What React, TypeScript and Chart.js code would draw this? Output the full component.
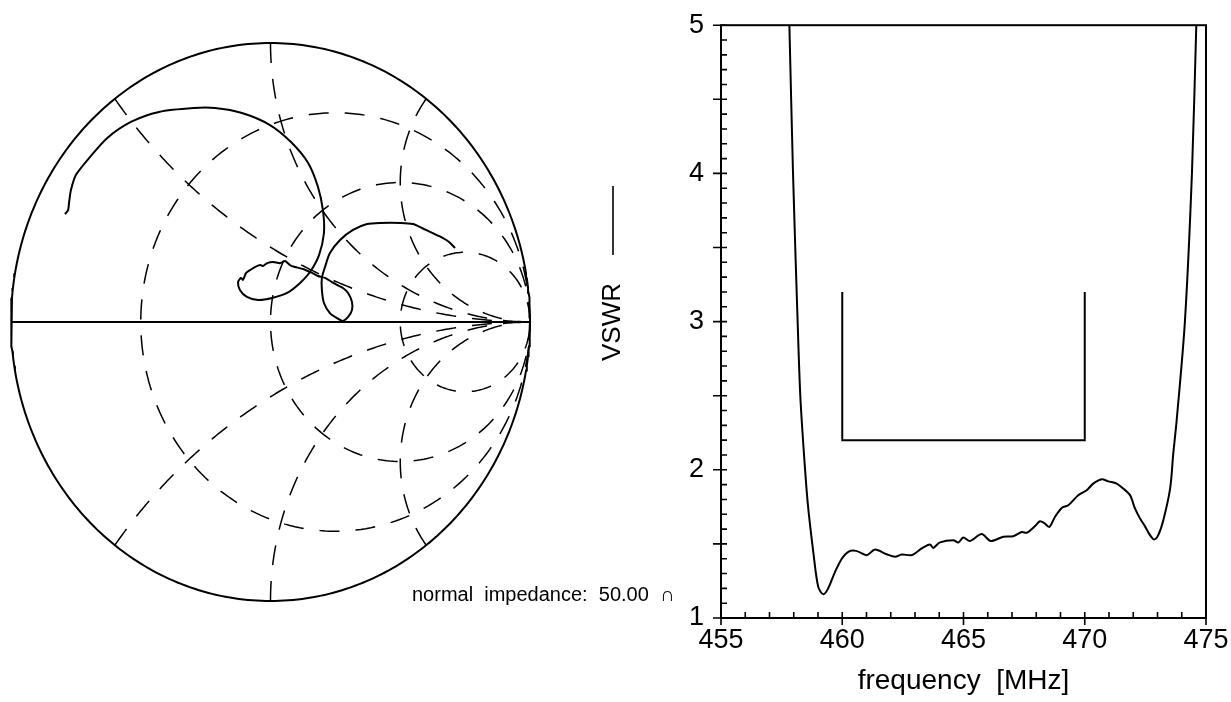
import React, { useEffect, useRef } from 'react';
import { Chart, registerables } from 'chart.js';

Chart.register(...registerables);

const gammaRe = [
  -0.792, -0.78, -0.776, -0.769, -0.75, -0.696, -0.63, -0.538, -0.43, -0.295,
  -0.214, -0.11, -0.002, 0.079, 0.145, 0.183, 0.202, 0.206, 0.187, 0.152,
  0.114, 0.064, 0.006, -0.048, -0.091, -0.118, -0.125, -0.114, -0.106, -0.094,
  -0.079, -0.06, -0.04, -0.029, -0.013, 0.01, 0.037, 0.056, 0.075, 0.094,
  0.125, 0.16, 0.183, 0.21, 0.237, 0.256, 0.279, 0.299, 0.314, 0.314,
  0.299, 0.279, 0.256, 0.229, 0.206, 0.198, 0.198, 0.21, 0.229, 0.268,
  0.318, 0.372, 0.422, 0.503, 0.549, 0.584, 0.615, 0.665, 0.688, 0.711,
];
const gammaIm = [
  0.387, 0.401, 0.43, 0.473, 0.527, 0.591, 0.659, 0.717, 0.753, 0.767,
  0.767, 0.749, 0.706, 0.645, 0.57, 0.484, 0.401, 0.319, 0.24, 0.179,
  0.14, 0.104, 0.086, 0.079, 0.09, 0.115, 0.143, 0.158, 0.151, 0.176,
  0.186, 0.197, 0.204, 0.201, 0.211, 0.215, 0.211, 0.219, 0.204, 0.197,
  0.19, 0.176, 0.165, 0.158, 0.143, 0.133, 0.122, 0.104, 0.072, 0.043,
  0.018, 0.004, 0.014, 0.032, 0.068, 0.115, 0.158, 0.197, 0.247, 0.294,
  0.33, 0.351, 0.355, 0.355, 0.351, 0.337, 0.323, 0.301, 0.287, 0.265,
];

// Smith chart grid (normalised resistance circles and reactance arcs)
const resistanceValues = [1 / 3, 1, 3];
const reactanceValues = [0.5, 1, 2, -0.5, -1, -2];

// ---------- VSWR plot ----------
const frequencyMHz = [
  457.73, 457.82, 457.97, 458.16, 458.27, 458.42, 458.58, 458.81, 459.01, 459.22,
  459.42, 459.7, 459.98, 460.25, 460.57, 461.01, 461.35, 461.83, 462.18, 462.45,
  462.86, 463.28, 463.62, 463.75, 464.03, 464.58, 464.79, 464.99, 465.27, 465.75,
  466.12, 466.64, 467.05, 467.4, 467.61, 467.95, 468.15, 468.32, 468.54, 468.77,
  469.05, 469.32, 469.73, 470.08, 470.35, 470.7, 470.97, 471.32, 471.59, 471.87,
  472.07, 472.28, 472.48, 472.69, 472.86, 473.03, 473.24, 473.52, 473.65, 473.79,
  474.13, 474.42, 474.6, 474.71,
];
const vswrValues = [
  5.6, 5.0, 4.0, 3.0, 2.5, 2.11, 1.77, 1.44, 1.21, 1.16,
  1.2, 1.31, 1.4, 1.447, 1.453, 1.424, 1.462, 1.43, 1.413, 1.429,
  1.424, 1.47, 1.496, 1.473, 1.51, 1.525, 1.51, 1.543, 1.52, 1.566,
  1.52, 1.548, 1.552, 1.58, 1.575, 1.62, 1.653, 1.642, 1.615, 1.682,
  1.743, 1.761, 1.828, 1.862, 1.907, 1.936, 1.922, 1.907, 1.873, 1.828,
  1.739, 1.671, 1.62, 1.559, 1.53, 1.559, 1.66, 1.873, 2.109, 2.333,
  3.0, 4.0, 5.0, 5.6,
];
const maskFrequency = [460, 460, 470, 470];
const maskVswr = [3.2, 2.2, 2.2, 3.2];

const freqMin = 455;
const freqMax = 475;
const freqLabelStep = 5;
const freqMinorStep = 1;
const vswrMin = 1;
const vswrMax = 5;
const vswrLabelStep = 1;
const vswrMinorStep = 0.1;
const vswrHalfStep = 0.5;

const impedanceLabel = 'normal  impedance:  50.00  \u2229';
const legendLabel = 'VSWR';
const xAxisTitle = 'frequency  [MHz]';

const FONT = "'Liberation Sans', Arial, sans-serif";

type P = { x: number; y: number };

function arc(cx: number, cy: number, r: number, a0: number, a1: number, n: number): P[] {
  const pts: P[] = [];
  for (let i = 0; i <= n; i++) {
    const a = a0 + ((a1 - a0) * i) / n;
    pts.push({ x: cx + r * Math.cos(a), y: cy + r * Math.sin(a) });
  }
  return pts;
}

function resistanceCircle(r: number): P[] {
  return arc(r / (1 + r), 0, 1 / (1 + r), 0, Math.PI * 2, 240);
}

function reactanceArc(xv: number): P[] {
  const ax = Math.abs(xv);
  const ue = (ax * ax - 1) / (ax * ax + 1);
  const ve = (2 * ax) / (ax * ax + 1);
  let a0 = Math.atan2(ve - 1 / ax, ue - 1);
  if (a0 < Math.PI / 2) a0 += Math.PI * 2;
  const pts = arc(1, 1 / ax, 1 / ax, a0, Math.PI * 1.5, 200);
  return xv < 0 ? pts.map((p) => ({ x: p.x, y: -p.y })) : pts;
}

export default function App() {
  const leftRef = useRef<HTMLCanvasElement | null>(null);
  const rightRef = useRef<HTMLCanvasElement | null>(null);

  useEffect(() => {
    if (!leftRef.current || !rightRef.current) return;

    const dashed = {
      borderColor: '#000',
      borderWidth: 1.5,
      borderDash: [20, 16],
      pointRadius: 0,
      showLine: true,
      fill: false,
      tension: 0,
      clip: false as const,
    };
    const solid = {
      borderColor: '#000',
      borderWidth: 2,
      pointRadius: 0,
      showLine: true,
      fill: false,
      tension: 0,
      clip: false as const,
    };

    const leftDatasets: any[] = [
      { ...solid, label: 'outer', data: arc(0, 0, 1, 0, Math.PI * 2, 360) },
      { ...solid, label: 'axis', data: [{ x: -1, y: 0 }, { x: 1, y: 0 }] },
      ...resistanceValues.map((r) => ({ ...dashed, label: 'r' + r, data: resistanceCircle(r) })),
      ...reactanceValues.map((xv) => ({ ...dashed, label: 'x' + xv, data: reactanceArc(xv) })),
      {
        ...solid,
        label: 'impedance',
        tension: 0.25,
        data: gammaRe.map((u, i) => ({ x: u, y: gammaIm[i] })),
      },
    ];

    const leftText = {
      id: 'leftText',
      afterDraw(chart: any) {
        const ctx = chart.ctx;
        ctx.save();
        ctx.fillStyle = '#000';
        ctx.font = `20px ${FONT}`;
        ctx.textAlign = 'left';
        ctx.textBaseline = 'alphabetic';
        ctx.fillText(impedanceLabel, 412, 601);
        ctx.restore();
      },
    };

    const left = new Chart(leftRef.current, {
      type: 'scatter',
      data: { datasets: leftDatasets },
      options: {
        animation: false,
        responsive: false,
        events: [],
        layout: { padding: { left: 11, right: 170, top: 43, bottom: 101 } },
        plugins: { legend: { display: false }, tooltip: { enabled: false } },
        scales: {
          x: { type: 'linear', min: -1, max: 1, display: false },
          y: { type: 'linear', min: -1, max: 1, display: false },
        },
      },
      plugins: [leftText],
    });

    const frame = {
      id: 'frame',
      afterDraw(chart: any) {
        const { ctx, chartArea: a } = chart;
        const xs = chart.scales.x;
        const ys = chart.scales.y;
        ctx.save();
        ctx.strokeStyle = '#000';
        ctx.lineWidth = 2;
        ctx.strokeRect(a.left, a.top, a.right - a.left, a.bottom - a.top);
        ctx.lineWidth = 1.6;
        ctx.beginPath();
        const nx = Math.round((freqMax - freqMin) / freqMinorStep);
        for (let i = 0; i <= nx; i++) {
          const f = freqMin + i * freqMinorStep;
          const px = xs.getPixelForValue(f);
          const q = (f - freqMin) / freqLabelStep;
          const major = Math.abs(q - Math.round(q)) < 1e-6;
          ctx.moveTo(px, a.bottom - 6);
          ctx.lineTo(px, a.bottom + (major ? 7 : 0));
        }
        const ny = Math.round((vswrMax - vswrMin) / vswrMinorStep);
        for (let i = 0; i <= ny; i++) {
          const v = vswrMin + i * vswrMinorStep;
          const py = ys.getPixelForValue(v);
          const q = (v - vswrMin) / vswrHalfStep;
          const major = Math.abs(q - Math.round(q)) < 1e-6;
          ctx.moveTo(a.left - (major ? 8 : 0), py);
          ctx.lineTo(a.left + 6, py);
        }
        ctx.stroke();

        // legend: rotated label with line sample
        ctx.lineWidth = 1.6;
        ctx.beginPath();
        ctx.moveTo(23, 186);
        ctx.lineTo(23, 255);
        ctx.stroke();
        ctx.translate(23, 322);
        ctx.rotate(-Math.PI / 2);
        ctx.fillStyle = '#000';
        ctx.font = `26px ${FONT}`;
        ctx.textAlign = 'center';
        ctx.textBaseline = 'middle';
        ctx.fillText(legendLabel, 0, 0);
        ctx.restore();
      },
    };

    const right = new Chart(rightRef.current, {
      type: 'scatter',
      data: {
        datasets: [
          {
            label: 'VSWR',
            data: frequencyMHz.map((f, i) => ({ x: f, y: vswrValues[i] })),
            borderColor: '#000',
            borderWidth: 2,
            pointRadius: 0,
            showLine: true,
            fill: false,
            tension: 0.3,
          },
          {
            label: 'mask',
            data: maskFrequency.map((f, i) => ({ x: f, y: maskVswr[i] })),
            borderColor: '#000',
            borderWidth: 2,
            pointRadius: 0,
            showLine: true,
            fill: false,
            tension: 0,
          },
        ] as any,
      },
      options: {
        animation: false,
        responsive: false,
        events: [],
        layout: { padding: { left: 0, right: 25, top: 24, bottom: 0 } },
        plugins: { legend: { display: false }, tooltip: { enabled: false } },
        scales: {
          x: {
            type: 'linear',
            min: freqMin,
            max: freqMax,
            grid: { display: false },
            border: { display: false },
            afterFit: (s: any) => {
              s.height = 84;
            },
            ticks: {
              stepSize: freqLabelStep,
              autoSkip: false,
              maxRotation: 0,
              padding: -2,
              color: '#000',
              font: { family: FONT, size: 27 },
            },
            title: {
              display: true,
              text: xAxisTitle,
              color: '#000',
              font: { family: FONT, size: 28 },
              padding: { top: 0, bottom: 4 },
            },
          },
          y: {
            type: 'linear',
            min: vswrMin,
            max: vswrMax,
            grid: { display: false },
            border: { display: false },
            afterFit: (s: any) => {
              s.width = 131;
            },
            ticks: {
              stepSize: vswrLabelStep,
              padding: 9,
              color: '#000',
              font: { family: FONT, size: 27 },
            },
          },
        },
      },
      plugins: [frame],
    });

    return () => {
      left.destroy();
      right.destroy();
    };
  }, []);

  return (
    <div style={{ position: 'absolute', left: 0, top: 0, width: 1231, height: 702, background: '#fff', overflow: 'hidden' }}>
      <canvas ref={leftRef} width={700} height={702} style={{ position: 'absolute', left: 0, top: 0 }} />
      <canvas ref={rightRef} width={641} height={702} style={{ position: 'absolute', left: 590, top: 0 }} />
    </div>
  );
}
